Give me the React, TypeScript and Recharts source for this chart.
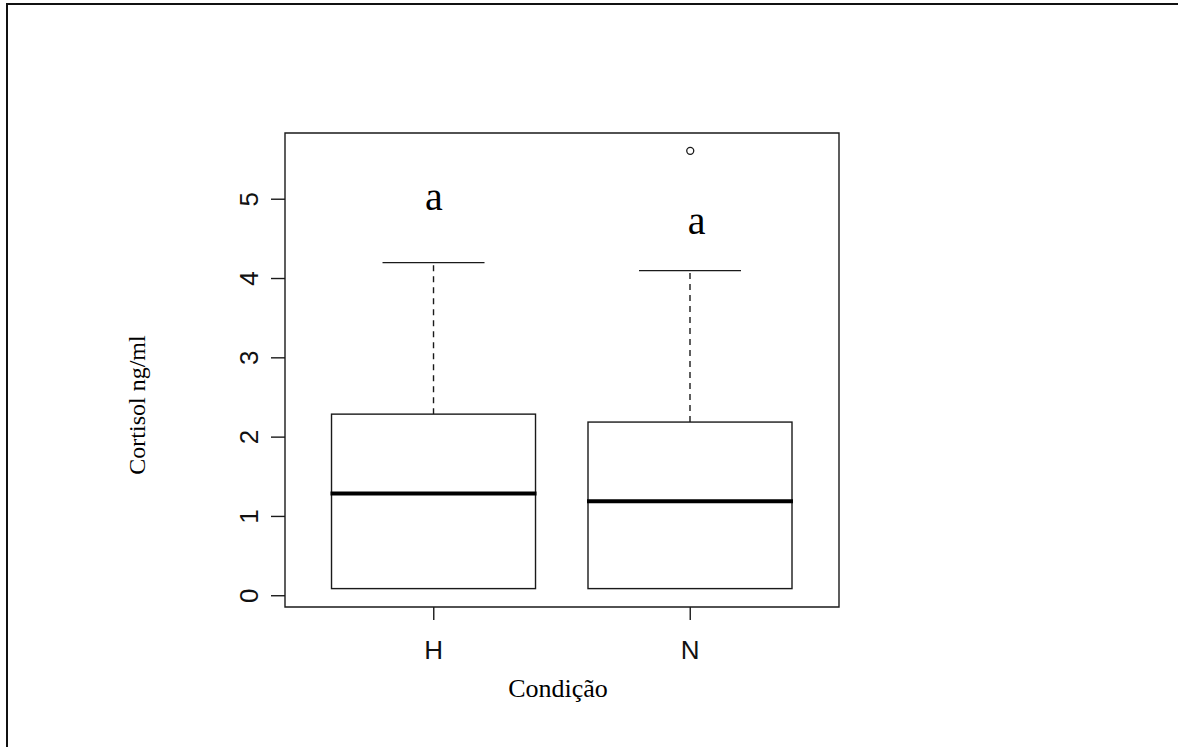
import React from 'react';
import { ComposedChart, Bar, Scatter, XAxis, YAxis, Label, ReferenceArea } from 'recharts';

// Cortisol (ng/ml) by condition: five-number summaries per group
const conditions = ['H', 'N'];
const whiskerLow = [0.09, 0.09];
const lowerQuartile = [0.09, 0.09];
const medians = [1.29, 1.19];
const upperQuartile = [2.29, 2.19];
const whiskerHigh = [4.2, 4.1];

// points beyond the whiskers
const outlierGroups = [2];
const outlierValues = [5.61];

// significance letters placed above each box (x in group units)
const letterX = [1.0, 2.025];
const letterValues = [5.0, 4.7];
const letters = ['a', 'a'];

const yTicks = [0, 1, 2, 3, 4, 5];
const yDomain: [number, number] = [-0.142, 5.835];
const xDomain: [number, number] = [0.42, 2.58];
const xTicks = conditions.map((_, i) => i + 1);

const INK = '#1a1a1a';
const SANS = '"Liberation Sans", Arial, Helvetica, sans-serif';
const SERIF = '"Liberation Serif", "Times New Roman", Times, serif';

const boxData = conditions.map((cond, i) => ({
    cond,
    pos: i + 1,
    range: [whiskerLow[i], whiskerHigh[i]],
    low: whiskerLow[i],
    q1: lowerQuartile[i],
    median: medians[i],
    q3: upperQuartile[i],
    high: whiskerHigh[i],
}));

const outliers = outlierGroups.map((pos, i) => ({ pos, value: outlierValues[i] }));

const letterData = letterX.map((pos, i) => ({ pos, value: letterValues[i], text: letters[i] }));

// Draws box, median, whiskers and caps; the bar spans low..high so the
// pixel scale for the other statistics comes from its own geometry.
const BoxShape = (props: any) => {
    const { x, y, width, height, payload } = props;
    const { low, q1, median, q3, high } = payload;
    const top = Math.min(y, y + height);
    const perUnit = Math.abs(height) / (high - low);
    const yOf = (v: number) => top + (high - v) * perUnit;
    const cx = x + width / 2;
    const cap = width / 4;
    return (
        <g>
            <line x1={cx} x2={cx} y1={yOf(q3)} y2={yOf(high)} stroke={INK} strokeWidth={1.4} strokeDasharray="6 5" />
            <line x1={cx - cap} x2={cx + cap} y1={yOf(high)} y2={yOf(high)} stroke={INK} strokeWidth={1.4} />
            {low < q1 && (
                <>
                    <line x1={cx} x2={cx} y1={yOf(q1)} y2={yOf(low)} stroke={INK} strokeWidth={1.4} strokeDasharray="6 5" />
                    <line x1={cx - cap} x2={cx + cap} y1={yOf(low)} y2={yOf(low)} stroke={INK} strokeWidth={1.4} />
                </>
            )}
            <rect x={x} y={yOf(q3)} width={width} height={yOf(q1) - yOf(q3)} fill="#fff" stroke={INK} strokeWidth={1.4} />
            <line x1={x - 1} x2={x + width + 1} y1={yOf(median)} y2={yOf(median)} stroke="#000" strokeWidth={4} />
        </g>
    );
};

const OutlierDot = (props: any) => (
    <circle cx={props.cx} cy={props.cy} r={3.5} fill="#fff" stroke={INK} strokeWidth={1.3} />
);

const LetterMark = (props: any) => (
    <text x={props.cx} y={props.cy + 11} textAnchor="middle" fontFamily={SERIF} fontSize={40} fill="#000">
        {props.payload.text}
    </text>
);

const YTick = ({ x, y, payload }: any) => (
    <text
        x={x - 11}
        y={y}
        transform={`rotate(-90, ${x - 11}, ${y})`}
        textAnchor="middle"
        fontFamily={SANS}
        fontSize={26}
        fill="#111"
    >
        {payload.value}
    </text>
);

const XTick = ({ x, y, payload }: any) => (
    <text x={x} y={y + 37} textAnchor="middle" fontFamily={SANS} fontSize={26} fill="#111">
        {conditions[payload.value - 1]}
    </text>
);

const XTitle = ({ viewBox }: any) => (
    <text x={viewBox.x + viewBox.width / 2 - 4} y={viewBox.y + 90} textAnchor="middle" fontFamily={SERIF} fontSize={26} fill="#000">
        Condição
    </text>
);

const YTitle = ({ viewBox }: any) => {
    const tx = viewBox.x - 80;
    const ty = viewBox.y + viewBox.height / 2 + 35;
    return (
        <text x={tx} y={ty} transform={`rotate(-90, ${tx}, ${ty})`} textAnchor="middle" fontFamily={SERIF} fontSize={24} fill="#000">
            Cortisol ng/ml
        </text>
    );
};

export default function App() {
    return (
        <div style={{ position: 'absolute', left: 0, top: 0, width: 1178, height: 747, background: '#fff', overflow: 'hidden' }}>
            {/* page frame: left and top edges only */}
            <div style={{ position: 'absolute', left: 6, top: 3, width: 1172, height: 2, background: '#111' }} />
            <div style={{ position: 'absolute', left: 6, top: 3, width: 2, height: 744, background: '#111' }} />
            <ComposedChart
                width={1178}
                height={747}
                data={boxData}
                margin={{ top: 133, right: 339, bottom: 80, left: 225 }}
                style={{ position: 'absolute', left: 0, top: 0 }}
            >
                <XAxis
                    dataKey="pos"
                    type="number"
                    domain={xDomain}
                    allowDataOverflow
                    ticks={xTicks}
                    height={60}
                    axisLine={false}
                    tickLine={{ stroke: INK, strokeWidth: 1.4 }}
                    tickSize={13}
                    tick={<XTick />}
                >
                    <Label content={<XTitle />} />
                </XAxis>
                {/* separate hidden axis for the letters so they don't narrow the boxes */}
                <XAxis xAxisId="marks" dataKey="pos" type="number" domain={xDomain} allowDataOverflow hide />
                <YAxis
                    type="number"
                    domain={yDomain}
                    allowDataOverflow
                    ticks={yTicks}
                    width={60}
                    axisLine={false}
                    tickLine={{ stroke: INK, strokeWidth: 1.4 }}
                    tickSize={14}
                    tick={<YTick />}
                >
                    <Label content={<YTitle />} />
                </YAxis>
                <Bar dataKey="range" barSize={204} shape={<BoxShape />} isAnimationActive={false} />
                <Scatter data={outliers} dataKey="value" shape={<OutlierDot />} isAnimationActive={false} />
                <Scatter
                    xAxisId="marks"
                    data={letterData}
                    dataKey="value"
                    shape={<LetterMark />}
                    isAnimationActive={false}
                />
                {/* plot frame */}
                <ReferenceArea
                    x1={xDomain[0]}
                    x2={xDomain[1]}
                    y1={yDomain[0]}
                    y2={yDomain[1]}
                    fill="none"
                    fillOpacity={0}
                    stroke={INK}
                    strokeWidth={1.4}
                    ifOverflow="visible"
                />
            </ComposedChart>
        </div>
    );
}
